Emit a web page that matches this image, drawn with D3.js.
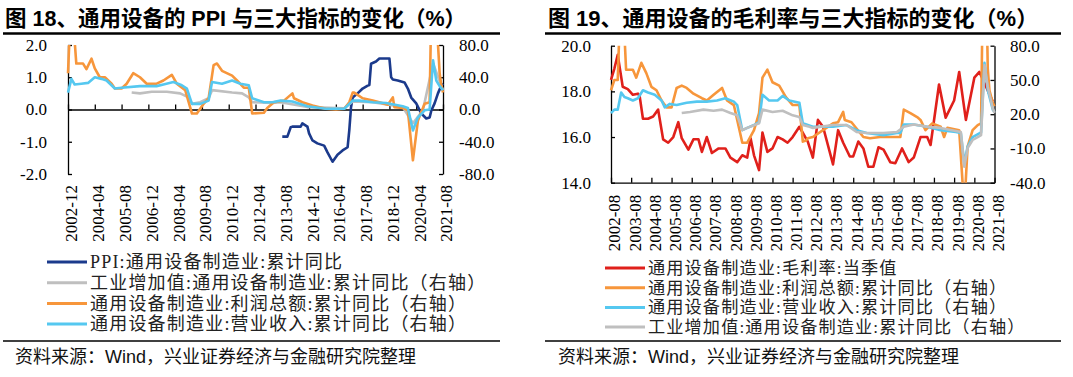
<!DOCTYPE html>
<html>
<head>
<meta charset="utf-8">
<script src="https://cdn.jsdelivr.net/npm/d3@7"></script>
<style>
body{margin:0;background:#fff}
svg{display:block}
</style>
</head>
<body>
<svg id="fig" width="1073" height="377"></svg>
<script>
// ---------- 图18 数据 (月度, 累计同比 %) ----------
const ppiL = [["2013-08",-0.84],["2013-11",-0.84],["2014-01",-0.55],["2014-02",-0.53],["2014-07",-0.53],["2014-08",-0.43],["2014-11",-0.53],["2014-12",-0.74],["2015-02",-0.96],["2015-05",-1.05],["2015-09",-1.12],["2015-11",-1.33],["2016-02",-1.62],["2016-03",-1.55],["2016-05",-1.40],["2016-08",-1.27],["2016-11",-1.17],["2016-12",-0.65],["2017-01",0.06],["2017-02",0.37],["2017-05",0.50],["2017-08",0.65],["2017-11",0.74],["2017-12",0.76],["2018-01",1.42],["2018-04",1.49],["2018-06",1.58],["2018-12",1.58],["2019-01",1.00],["2019-02",0.93],["2019-05",0.90],["2019-09",0.84],["2019-11",0.65],["2020-01",0.37],["2020-04",0.19],["2020-07",-0.12],["2020-10",-0.28],["2020-12",-0.25],["2021-01",-0.03],["2021-03",0.19],["2021-05",0.50],["2021-07",0.74],["2021-08",0.80]];
const vaL = [["2006-02",21],["2006-07",20],["2007-02",22],["2007-11",22],["2008-07",20],["2008-12",15],["2009-02",7],["2009-07",9],["2009-12",14],["2010-02",24],["2011-02",21],["2011-08",20],["2011-12",15],["2012-02",9],["2013-02",8],["2013-07",9],["2014-11",3],["2016-09",1.5],["2017-02",10],["2018-02",9],["2019-08",3],["2020-02",-17],["2020-08",-1],["2021-02",57],["2021-08",24]];
const profitL = [["2002-12",45],["2003-01",95],["2003-03",90],["2003-04",85],["2003-05",57],["2003-09",57],["2003-11",50],["2004-02",63],["2004-04",51],["2004-07",40],["2004-10",40],["2005-02",32],["2005-04",26],["2005-08",26],["2005-11",32],["2006-03",45],["2006-07",40],["2006-11",32],["2007-05",32],["2007-09",36],["2008-02",43],["2008-05",32],["2008-10",24],["2009-02",-5],["2009-05",-5],["2009-09",7],["2009-12",14],["2010-03",55],["2010-05",57],["2010-08",48],["2011-02",42],["2011-05",36],["2011-09",27],["2011-12",27],["2012-02",-5],["2012-09",-4],["2012-11",2],["2013-03",9],["2013-09",11],["2014-02",20],["2014-03",14],["2014-08",9],["2015-02",5],["2015-10",1],["2016-04",0],["2016-09",1],["2016-12",9],["2017-02",21],["2017-03",21],["2017-08",14],["2018-02",11],["2018-06",9],["2018-11",6],["2019-02",15],["2019-03",3],["2019-08",2],["2019-11",-1],["2020-02",-63],["2020-05",-14],["2020-09",7],["2020-12",9],["2021-02",250],["2021-03",150],["2021-04",100],["2021-05",82],["2021-06",45],["2021-07",30],["2021-08",21]];
const revenueL = [["2002-12",21],["2003-02",38],["2003-04",31],["2003-08",32],["2003-12",33],["2004-04",40],["2004-08",38],["2004-11",36],["2005-04",26],["2005-08",27],["2006-07",29],["2007-05",29],["2007-09",31],["2008-03",34],["2008-08",30],["2008-11",26],["2009-02",7],["2009-07",7],["2009-12",11],["2010-02",34],["2010-08",32],["2011-02",36],["2011-07",32],["2011-12",30],["2012-02",14],["2012-09",9],["2013-02",9],["2013-07",11],["2014-02",10],["2014-11",4],["2015-10",1],["2016-09",1],["2017-02",11],["2017-06",11],["2018-02",9],["2018-10",8],["2019-08",4],["2019-11",2],["2020-02",-26],["2020-05",-10],["2020-09",-1],["2020-12",0],["2021-02",61],["2021-04",36],["2021-06",29],["2021-08",24]];
const ticksL = ["2002-12","2004-04","2005-08","2006-12","2008-04","2009-08","2010-12","2012-04","2013-08","2014-12","2016-04","2017-08","2018-12","2020-04","2021-08"];
const yTicksL1 = [-2,-1,0,1,2];
const yTicksL2 = [-80,-40,0,40,80];

// ---------- 图19 数据 ----------
const marginR = [["2002-08",18.5],["2002-10",19.0],["2002-12",19.6],["2003-03",18.2],["2003-06",18.1],["2003-09",17.85],["2003-12",17.9],["2004-01",17.8],["2004-03",16.8],["2004-06",16.8],["2004-09",16.9],["2004-12",17.2],["2005-03",15.9],["2005-06",15.75],["2005-09",16.0],["2005-12",16.65],["2006-02",15.95],["2006-06",15.45],["2006-09",15.9],["2006-12",15.9],["2007-02",15.35],["2007-05",16.0],["2007-08",15.3],["2007-12",15.5],["2008-04",15.5],["2008-07",15.1],["2008-11",14.9],["2009-02",15.2],["2009-05",15.1],["2009-07",15.95],["2009-09",15.2],["2009-12",14.55],["2010-02",16.2],["2010-05",15.35],["2010-08",15.5],["2010-11",16.0],["2011-02",15.9],["2011-05",15.75],["2011-08",16.0],["2011-12",16.45],["2012-05",15.8],["2012-08",15.1],["2012-11",16.75],["2013-02",16.45],["2013-08",14.8],["2013-11",16.3],["2014-02",15.75],["2014-06",15.15],["2014-08",15.15],["2014-11",15.8],["2015-02",15.5],["2015-05",14.7],["2015-08",14.7],["2015-11",15.55],["2016-02",15.45],["2016-06",14.9],["2016-09",14.85],["2017-01",15.5],["2017-05",14.9],["2017-08",15.1],["2017-12",16.0],["2018-04",16.0],["2018-06",15.65],["2018-11",18.3],["2019-03",16.85],["2019-08",17.6],["2019-11",18.85],["2020-03",16.75],["2020-08",18.6],["2020-11",18.85],["2021-07",17.55]];
const profitR = [["2002-08",41],["2002-10",50],["2002-12",50],["2003-01",95],["2003-04",90],["2003-05",59],["2003-09",59],["2003-11",52],["2004-02",65],["2004-05",56],["2004-08",44],["2004-11",41],["2005-02",32],["2005-05",26],["2005-08",26],["2005-11",43],["2006-02",45],["2006-05",43],["2006-09",38],["2007-02",34],["2007-05",32],["2007-09",37],["2008-02",43],["2008-05",32],["2008-09",28],["2009-02",-5],["2009-05",-5],["2009-09",6],["2009-12",21],["2010-02",52],["2010-05",59],["2010-08",48],["2010-12",45],["2011-04",35],["2011-08",28],["2011-12",28],["2012-02",-4],["2012-04",-3],["2012-05",-1],["2012-08",0],["2013-02",6],["2013-08",12],["2013-11",13],["2014-02",22],["2014-03",15],["2014-07",13],["2015-02",0],["2015-06",-1],["2015-12",0],["2016-06",0],["2016-12",0],["2017-02",24],["2017-06",21],["2017-10",17.5],["2017-12",15],["2018-03",6],["2018-07",12],["2018-12",9],["2019-02",0],["2019-04",8],["2019-11",6],["2020-02",-63],["2020-04",-8.5],["2020-07",6],["2020-10",10.5],["2020-12",12],["2021-02",250],["2021-03",150],["2021-04",60],["2021-05",41],["2021-07",30],["2021-08",27]];
const revenueR = [["2002-08",21],["2002-10",24],["2002-12",24],["2003-02",39],["2003-04",35],["2003-06",34],["2003-09",32],["2003-12",34],["2004-03",41],["2004-06",39],["2004-10",37],["2005-02",32],["2005-04",26],["2005-07",29],["2005-11",28],["2006-05",30],["2006-11",31],["2007-05",31],["2007-11",32],["2008-04",34],["2008-09",31],["2008-11",28],["2009-02",6],["2009-05",8],["2009-09",10.5],["2009-12",13],["2010-02",37],["2010-06",32],["2010-11",32],["2011-02",36],["2011-06",32],["2011-12",30],["2012-02",12],["2012-08",9],["2013-08",9],["2014-04",10.5],["2014-10",6],["2015-04",3.5],["2016-02",1.7],["2016-10",3.5],["2016-12",3.5],["2017-02",11],["2017-08",11],["2018-04",9],["2018-12",6],["2019-09",4.4],["2019-12",3.5],["2020-02",-23],["2020-04",-8.5],["2020-07",0],["2020-12",4],["2021-02",65],["2021-04",41],["2021-07",24],["2021-08",22]];
const vaR = [["2006-02",21],["2006-07",22],["2007-03",24],["2007-09",23],["2008-02",24],["2008-07",21],["2008-11",19],["2009-02",6],["2009-05",8],["2009-12",12],["2010-02",24],["2010-08",22],["2011-02",23],["2011-08",19],["2011-12",17.5],["2012-02",10.5],["2012-06",9],["2012-08",8],["2013-08",10.5],["2014-04",10.5],["2014-10",4.4],["2015-04",3.5],["2016-02",3.5],["2016-10",4.4],["2017-02",9],["2017-08",11],["2018-04",9],["2018-12",8],["2019-12",4.4],["2020-02",-26],["2020-04",-9.6],["2020-07",-2.6],["2020-10",0],["2020-12",1.7],["2021-02",63],["2021-04",44],["2021-07",25],["2021-08",21]];
const ticksR = ["2002-08","2003-08","2004-08","2005-08","2006-08","2007-08","2008-08","2009-08","2010-08","2011-08","2012-08","2013-08","2014-08","2015-08","2016-08","2017-08","2018-08","2019-08","2020-08","2021-08"];
const yTicksR1 = [14,16,18,20];
const yTicksR2 = [-40,-10,20,50,80];

const navy = "#1b3a8c", orange = "#f7963b", sky = "#55c8f0", grey = "#bfbfbf", red = "#e0201b";

const svg = d3.select("#fig");
const parse = d3.timeParse("%Y-%m");
const fmt = d => d.toFixed(1);
const serif = "'Liberation Serif','Noto Sans CJK SC',serif";
const sans = "'Liberation Sans','Noto Sans CJK SC',sans-serif";

function drawPanel(p) {
    const g = svg.append("g");

    // titre + filets
    g.append("text").attr("x", p.titleX).attr("y", 25.5)
        .attr("font-family", sans).attr("font-weight", "bold").attr("font-size", p.titleSize)
        .attr("fill", "#000").text(p.title);
    g.append("line").attr("x1", p.ruleX0).attr("x2", p.ruleX1).attr("y1", 33.5).attr("y2", 33.5)
        .attr("stroke", "#000").attr("stroke-width", 2.5);
    g.append("line").attr("x1", p.ruleX0).attr("x2", p.ruleX1).attr("y1", 341).attr("y2", 341)
        .attr("stroke", "#000").attr("stroke-width", 1.5);
    g.append("text").attr("x", p.srcX).attr("y", 357).attr("dy", "0.35em")
        .attr("font-family", sans).attr("font-size", "18px").attr("fill", "#111")
        .text("资料来源：Wind，兴业证券经济与金融研究院整理");

    const x = d3.scaleTime().domain([parse(p.ticks[0]), parse(p.ticks[p.ticks.length - 1])]).range([p.x0, p.x1]);
    const yL = d3.scaleLinear().domain(p.yLdom).range([p.y1, p.y0]);
    const yR = d3.scaleLinear().domain(p.yRdom).range([p.y1, p.y0]);

    // axes
    const axL = g.append("g").attr("transform", `translate(${p.x0},0)`)
        .call(d3.axisLeft(yL).tickValues(p.yLticks).tickFormat(fmt).tickSize(-4).tickSizeOuter(0).tickPadding(p.padL));
    const axR = g.append("g").attr("transform", `translate(${p.x1},0)`)
        .call(d3.axisRight(yR).tickValues(p.yRticks).tickFormat(fmt).tickSize(-4).tickSizeOuter(0).tickPadding(p.padR));
    const axX = g.append("g").attr("transform", `translate(0,${p.xAxisY(yL)})`)
        .call(d3.axisBottom(x).tickValues(p.ticks.map(parse)).tickFormat("").tickSize(-5).tickSizeOuter(0));
    const axLab = g.append("g").attr("transform", `translate(0,${p.y1})`)
        .call(d3.axisBottom(x).tickValues(p.ticks.map(parse)).tickFormat(d3.timeFormat("%Y-%m")).tickSize(0));
    axLab.select(".domain").remove();
    axLab.selectAll("text")
        .attr("transform", "rotate(-90)").attr("text-anchor", "end")
        .attr("x", -p.labGap).attr("y", 3).attr("dy", "0.35em");

    [axL, axR, axX, axLab].forEach(a => {
        a.selectAll(".domain, line").attr("stroke", "#000").attr("stroke-width", 1.3);
        a.selectAll("text").attr("font-family", serif).attr("font-size", "17px").attr("fill", "#000");
    });

    // courbes
    const clipId = "clip" + p.id;
    g.append("clipPath").attr("id", clipId).append("rect")
        .attr("x", p.x0 - 2).attr("y", p.y0).attr("width", p.x1 - p.x0 + 4).attr("height", p.y1 - p.y0);
    const plot = g.append("g").attr("clip-path", `url(#${clipId})`);
    p.series.forEach(s => {
        const y = s.axis === "L" ? yL : yR;
        const line = d3.line().x(d => x(parse(d[0]))).y(d => y(d[1]));
        plot.append("path").datum(s.data)
            .attr("fill", "none").attr("stroke", s.color).attr("stroke-width", 2.6)
            .attr("stroke-linejoin", "round").attr("d", line);
    });

    // légende
    p.legend.forEach((s, i) => {
        const ly = p.legY + i * p.legStep;
        g.append("line").attr("x1", p.legX).attr("x2", p.legX + 40).attr("y1", ly).attr("y2", ly)
            .attr("stroke", s.color).attr("stroke-width", 3);
        g.append("text").attr("x", p.legX + 43).attr("y", ly).attr("dy", "0.35em")
            .attr("font-family", serif).attr("font-size", p.legFont).attr("letter-spacing", p.legLs)
            .attr("fill", "#222").text(s.label);
    });
}

const sPPI = {data: ppiL, axis: "L", color: navy, label: "PPI:通用设备制造业:累计同比"};
const sVAL = {data: vaL, axis: "R", color: grey, label: "工业增加值:通用设备制造业:累计同比（右轴）"};
const sProL = {data: profitL, axis: "R", color: orange, label: "通用设备制造业:利润总额:累计同比（右轴）"};
const sRevL = {data: revenueL, axis: "R", color: sky, label: "通用设备制造业:营业收入:累计同比（右轴）"};

drawPanel({
    id: "L", title: "图 18、通用设备的 PPI 与三大指标的变化（%）", titleX: 5, titleSize: "21.5px",
    ruleX0: 3, ruleX1: 500, srcX: 15,
    ticks: ticksL, x0: 68, x1: 443, y0: 45, y1: 174,
    yLdom: [-2, 2], yRdom: [-80, 80], yLticks: yTicksL1, yRticks: yTicksL2,
    padL: 21, padR: 16, labGap: 11, xAxisY: yL => yL(0),
    series: [sPPI, sVAL, sProL, sRevL],
    legend: [sPPI, sVAL, sProL, sRevL], legX: 47, legY: 262, legStep: 20.7,
    legFont: "18px", legLs: "1.2px"
});

const sMar = {data: marginR, axis: "L", color: red, label: "通用设备制造业:毛利率:当季值"};
const sProR = {data: profitR, axis: "R", color: orange, label: "通用设备制造业:利润总额:累计同比（右轴）"};
const sRevR = {data: revenueR, axis: "R", color: sky, label: "通用设备制造业:营业收入:累计同比（右轴）"};
const sVAR = {data: vaR, axis: "R", color: grey, label: "工业增加值:通用设备制造业:累计同比（右轴）"};

drawPanel({
    id: "R", title: "图 19、通用设备的毛利率与三大指标的变化（%）", titleX: 548, titleSize: "22px",
    ruleX0: 545, ruleX1: 1061, srcX: 558,
    ticks: ticksR, x0: 611, x1: 994.5, y0: 45.7, y1: 182.7,
    yLdom: [14, 20], yRdom: [-40, 80], yLticks: yTicksR1, yRticks: yTicksR2,
    padL: 20, padR: 15.5, labGap: 12, xAxisY: yL => yL(14),
    series: [sMar, sProR, sRevR, sVAR],
    legend: [sMar, sProR, sRevR, sVAR], legX: 605, legY: 268, legStep: 19.7,
    legFont: "17.2px", legLs: "1.1px"
});
</script>
</body>
</html>
